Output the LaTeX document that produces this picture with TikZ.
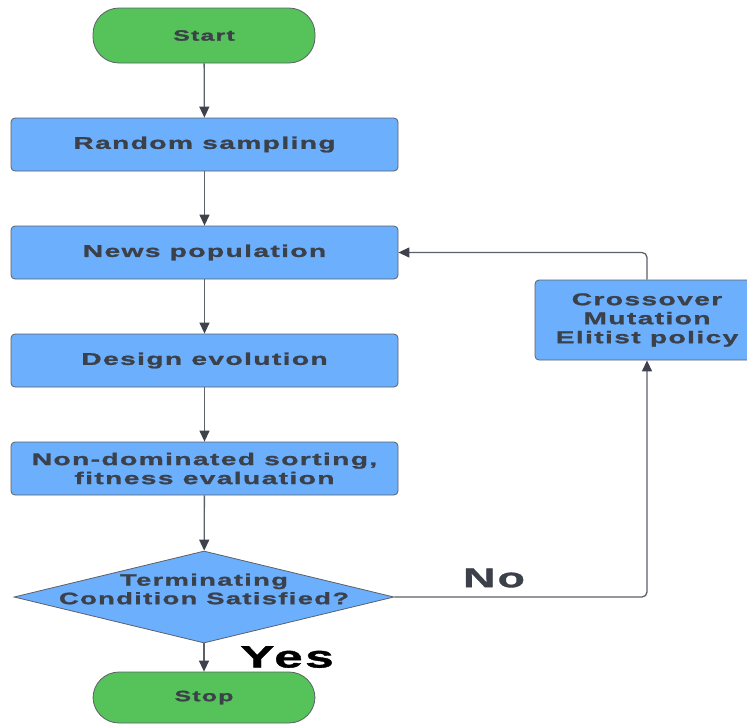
\documentclass[tikz,border=0pt]{standalone}
\usepackage{fontspec}
\newfontfamily\wfont[FakeStretch=1.66,LetterSpace=8,FakeBold=1.2]{Liberation Sans Bold}
\usetikzlibrary{arrows.meta,shapes.geometric}
\definecolor{gfill}{HTML}{55C25A}
\definecolor{bfill}{HTML}{6BAFFD}
\definecolor{txt}{HTML}{3B4049}
\definecolor{edge}{HTML}{5C6068}
\definecolor{tipc}{HTML}{3E424B}
\tikzset{
  termbox/.style={draw=edge, line width=0.8pt, fill=gfill, rounded corners=26pt,
    minimum width=222pt, inner sep=0pt, text=txt,
    font=\wfont\fontsize{15}{17}\selectfont},
  procbox/.style={draw=edge, line width=0.8pt, fill=bfill, rounded corners=4pt,
    minimum width=387pt, minimum height=53pt, inner sep=0pt, text=txt, align=center,
    font=\wfont\fontsize{17}{19}\selectfont},
  decbox/.style={diamond, draw=edge, line width=0.8pt, fill=bfill, inner sep=0pt,
    minimum width=380pt, minimum height=92pt},
  conn/.style={draw=edge, line width=1.3pt, rounded corners=5pt,
    -{Triangle[length=11pt,width=10pt,color=tipc]}},
  bigtext/.style={inner sep=0pt, font=\wfont\fontsize{#1}{#1}\selectfont}
}
\begin{document}
\begin{tikzpicture}[x=1pt,y=-1pt]
\useasboundingbox (0,0) rectangle (747,724);
\node[termbox, minimum height=55pt] (start) at (204,35.5) {Start};
\node[procbox] (rand) at (204.5,144.5) {Random sampling};
\node[procbox] (news) at (204.5,252.5) {News population};
\node[procbox] (design) at (204.5,360.5) {Design evolution};
\node[procbox] (sort) at (204.5,468.5) {Non-dominated sorting,\\fitness evaluation};
\node[decbox, label={[yshift=8pt, text=txt, align=center, inner sep=0pt,
    font=\wfont\fontsize{16.5}{18.5}\selectfont]center:Terminating\\Condition Satisfied?}]
    (dec) at (204,597) {};
\node[termbox, minimum height=51pt] (stop) at (204,697.5) {Stop};
\node[procbox, minimum width=224pt, minimum height=80pt] (cross) at (647,320)
    {Crossover\\Mutation\\Elitist policy};
\node[bigtext=27, text=txt] (no) at (494,578) {No};
\node[bigtext=31, text=black] (yes) at (287,657) {Yes};

\draw[conn] (start) -- (rand);
\draw[conn] (rand) -- (news);
\draw[conn] (news) -- (design);
\draw[conn] (design) -- (sort);
\draw[conn] (sort) -- (dec);
\draw[conn] (dec) -- (stop);
\draw[conn] (dec.east) -| (cross.south);
\draw[conn] (cross.north) |- (news.east);
\end{tikzpicture}
\end{document}
